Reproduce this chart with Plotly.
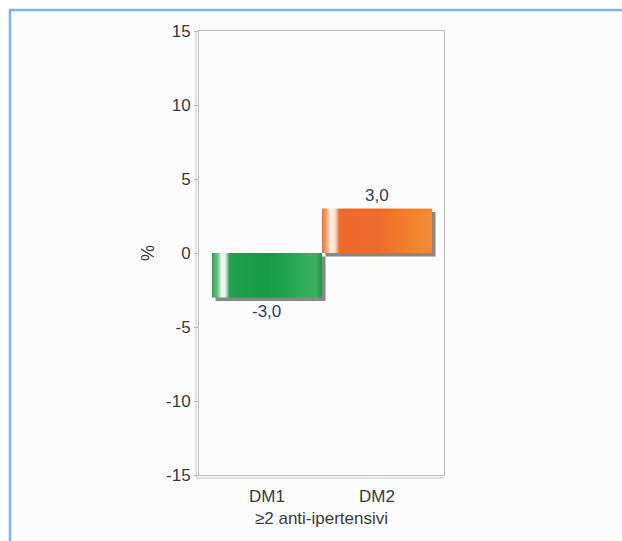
import plotly.graph_objects as go

# ---- data ----
categories = ["DM1", "DM2"]
values = [-3.0, 3.0]
group_label = "≥2 anti-ipertensivi"
y_ticks = [-15, -10, -5, 0, 5, 10, 15]

# ---- styling ----
W, H = 622, 541
L, R, T, B = 199, 178, 31, 66
plot_w = W - L - R
plot_h = H - T - B
x_range = [-0.618, 1.609]
y_range = [-15, 15]
bar_w = 1.0
FONT = "Liberation Sans, Arial, sans-serif"

px_x = (x_range[1] - x_range[0]) / plot_w   # data units per pixel, x
px_y = (y_range[1] - y_range[0]) / plot_h   # data units per pixel, y

green_scale = [
    [0.00, "#2e9d55"], [0.05, "#6cc48a"], [0.09, "#f4fbf5"], [0.12, "#e6f4e9"],
    [0.16, "#22a04c"], [0.50, "#149a45"], [0.80, "#2bab58"], [0.94, "#3db05f"],
    [1.00, "#1f9a48"],
]
orange_scale = [
    [0.00, "#ee7232"], [0.04, "#f6a272"], [0.08, "#fff4ea"], [0.12, "#fbdcc4"],
    [0.16, "#ee6a2a"], [0.50, "#ee6b2b"], [0.85, "#f3852f"], [1.00, "#f28a3a"],
]
scales = [green_scale, orange_scale]

fig = go.Figure()

# drop shadows, then gradient bars
sx, sy = 3.5 * px_x, 3.5 * px_y
for i, v in enumerate(values):
    x0, x1 = i - bar_w / 2, i + bar_w / 2
    fig.add_trace(go.Scatter(
        x=[x0 + sx, x1 + sx, x1 + sx, x0 + sx, x0 + sx],
        y=[0 - sy, 0 - sy, v - sy, v - sy, 0 - sy],
        fill="toself", mode="lines", line=dict(width=0),
        fillcolor="rgba(105,105,105,0.8)", hoverinfo="skip", showlegend=False,
    ))
for i, v in enumerate(values):
    x0, x1 = i - bar_w / 2, i + bar_w / 2
    fig.add_trace(go.Scatter(
        x=[x0, x1, x1, x0, x0],
        y=[0, 0, v, v, 0],
        fill="toself", mode="lines", line=dict(width=0),
        fillgradient=dict(type="horizontal", colorscale=scales[i]),
        name=categories[i], showlegend=False,
    ))

# value labels
for i, v in enumerate(values):
    fig.add_annotation(
        x=i, y=v, text=f"{v:.1f}".replace(".", ","), showarrow=False,
        yshift=13 if v >= 0 else -14,
        font=dict(family=FONT, size=17, color="#2f3a66"),
    )

# outer panel border
def to_paper_x(px):
    return (px - L) / plot_w

def to_paper_y(py):
    return (H - B - py) / plot_h

fig.add_shape(type="rect", xref="paper", yref="paper",
              x0=to_paper_x(10), x1=to_paper_x(640), y0=to_paper_y(560), y1=to_paper_y(10),
              line=dict(color="#7eb2df", width=2.5), fillcolor="#fcfcfc", layer="below")
# double rule on left and bottom of the frame
fig.add_shape(type="line", xref="paper", yref="paper",
              x0=to_paper_x(L - 3), x1=to_paper_x(L - 3), y0=to_paper_y(H - B + 3), y1=1,
              line=dict(color="#c4c4c4", width=1))
fig.add_shape(type="line", xref="paper", yref="paper",
              x0=to_paper_x(L - 3), x1=1, y0=to_paper_y(H - B + 3), y1=to_paper_y(H - B + 3),
              line=dict(color="#c4c4c4", width=1))

axis_font = dict(family=FONT, size=17, color="#3a3a3a")
fig.update_layout(
    width=W, height=H,
    margin=dict(l=L, r=R, t=T, b=B),
    paper_bgcolor="white", plot_bgcolor="rgba(0,0,0,0)",
    xaxis=dict(
        range=x_range, tickvals=list(range(len(categories))), ticktext=categories,
        showgrid=False, zeroline=False, showline=True, mirror=True,
        linecolor="#bdbdbd", linewidth=1, ticks="", tickfont=axis_font,
        ticklabelstandoff=6,
        title=dict(text=group_label, font=axis_font, standoff=6),
    ),
    yaxis=dict(
        range=y_range, tickvals=y_ticks, ticktext=[str(t) for t in y_ticks],
        showgrid=False, zeroline=False,
        showline=True, mirror=True, linecolor="#bdbdbd", linewidth=1,
        ticks="outside", ticklen=4, tickcolor="#bdbdbd", tickfont=axis_font,
        title=dict(text="%", font=dict(family=FONT, size=18, color="#3a3a3a"), standoff=6),
    ),
)

fig.write_html("out.html")
